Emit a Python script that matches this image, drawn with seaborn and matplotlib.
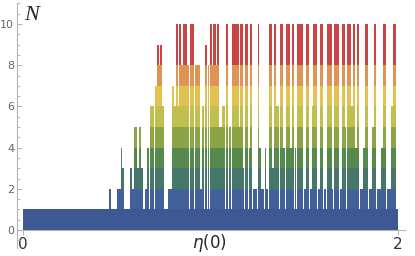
import numpy as np
import pandas as pd
import matplotlib
matplotlib.use("Agg")
import matplotlib.pyplot as plt
from matplotlib.ticker import MultipleLocator, FixedLocator
import seaborn as sns

# ---- data: runs of constant N over eta(0) ----
eta_start = [0.0, 0.459, 0.469, 0.501, 0.523, 0.528, 0.539, 0.571, 0.581, 0.592,
             0.608, 0.619, 0.629, 0.640, 0.651, 0.661, 0.672, 0.702, 0.713, 0.724,
             0.731, 0.741, 0.752, 0.770, 0.795, 0.805, 0.816, 0.827, 0.832, 0.843,
             0.853, 0.875, 0.885, 0.917, 0.944, 0.955, 0.969, 0.983, 0.994, 1.008,
             1.012, 1.029, 1.033, 1.044, 1.061, 1.076, 1.079, 1.097, 1.108, 1.154,
             1.157, 1.172, 1.182, 1.204, 1.211, 1.225, 1.250, 1.260, 1.268, 1.289,
             1.296, 1.310, 1.328, 1.339, 1.349, 1.367, 1.388, 1.399, 1.424, 1.435,
             1.449, 1.456, 1.495, 1.509, 1.527, 1.541, 1.545, 1.570, 1.584, 1.602,
             1.620, 1.648, 1.655, 1.687, 1.701, 1.716, 1.723, 1.751, 1.758, 1.769,
             1.780, 1.794, 1.815, 1.822, 1.844, 1.861, 1.872, 1.886, 1.911, 1.918,
             1.936, 1.964, 1.972, 1.993]
eta_end = 2.0
N_count = [1, 2, 1, 2, 4, 3, 1, 3, 2, 5,
           3, 5, 3, 1, 2, 4, 6, 7, 9, 8,
           9, 6, 1, 2, 7, 6, 10, 6, 10, 8,
           10, 8, 10, 8, 2, 6, 9, 8, 10, 8,
           10, 8, 10, 5, 6, 5, 10, 5, 10, 5,
           10, 3, 10, 4, 10, 2, 10, 4, 2, 4,
           2, 10, 3, 10, 6, 10, 4, 10, 4, 10,
           4, 10, 2, 10, 2, 6, 10, 2, 10, 2,
           10, 2, 10, 2, 10, 5, 10, 6, 10, 4,
           10, 2, 4, 10, 2, 5, 10, 2, 4, 10,
           2, 6, 10, 1]
levels = list(range(1, 11))
level_colors = ["#3d5893", "#42609a", "#44766a", "#568a4c", "#8ba446",
                "#c1c04e", "#e2c251", "#de9554", "#c94443", "#c94443"]
y_major = [0, 2, 4, 6, 8, 10]
x_major = [0, 2]
x_ticklabels = ["0", "2"]

# ---- build long table: one row per unit level of each run ----
edges = eta_start + [eta_end]
rows = []
for i, n in enumerate(N_count):
    c = 0.5 * (edges[i] + edges[i + 1])
    for k in range(1, n + 1):
        rows.append((c, k))
df = pd.DataFrame(rows, columns=["eta", "level"])

sns.set_style("white")
plt.rcParams["font.family"] = ["DejaVu Sans"]

fig = plt.figure(figsize=(4.15, 2.56), dpi=100)
ax = fig.add_axes([17 / 415, 8 / 256, 388 / 415, 245 / 256])

# seaborn stacks the last hue level at the bottom, so give the order reversed
sns.histplot(df, x="eta", hue="level", bins=edges, multiple="stack",
             hue_order=levels[::-1], palette=dict(zip(levels, level_colors)),
             shrink=0.82, linewidth=0, alpha=1, legend=False, ax=ax)
# solid base band
sns.histplot(df[df["level"] == 1], x="eta", bins=edges, color=level_colors[0],
             shrink=1.0, linewidth=0, alpha=1, ax=ax)

ax.set_xlim(-0.032, 2.037)
ax.set_ylim(-0.874, 11.02)

axis_col = "#b3b3b3"
for s in ["top", "right"]:
    ax.spines[s].set_visible(False)
ax.spines["left"].set_color(axis_col)
ax.spines["bottom"].set_color(axis_col)
ax.spines["bottom"].set_position(("data", 0))
ax.spines["left"].set_linewidth(0.8)
ax.spines["bottom"].set_linewidth(0.8)

ax.yaxis.set_major_locator(FixedLocator(y_major))
ax.yaxis.set_minor_locator(MultipleLocator(0.5))
ax.xaxis.set_major_locator(FixedLocator(x_major))
ax.set_xticklabels(x_ticklabels)
ax.tick_params(axis="y", which="major", direction="in", length=3.5, width=0.7,
               color=axis_col, labelsize=8, labelcolor="#666666", pad=2, left=True)
ax.tick_params(axis="y", which="minor", direction="in", length=2, width=0.6,
               color=axis_col, left=True)
ax.tick_params(axis="x", which="major", direction="out", length=3.8, width=0.7,
               color=axis_col, labelsize=11, labelcolor="#333333", pad=1.5, bottom=True)

ax.set_xlabel(r"$\eta$(0)", fontsize=12)
ax.xaxis.set_label_coords(0.497, 0.022)
ax.xaxis.label.set_verticalalignment("center")
ax.set_ylabel("N", rotation=0, fontsize=16, family="Liberation Serif", style="italic")
ax.yaxis.set_label_coords(0.037, 0.95)
ax.yaxis.label.set_verticalalignment("center")

fig.savefig("out.png", dpi=100)
